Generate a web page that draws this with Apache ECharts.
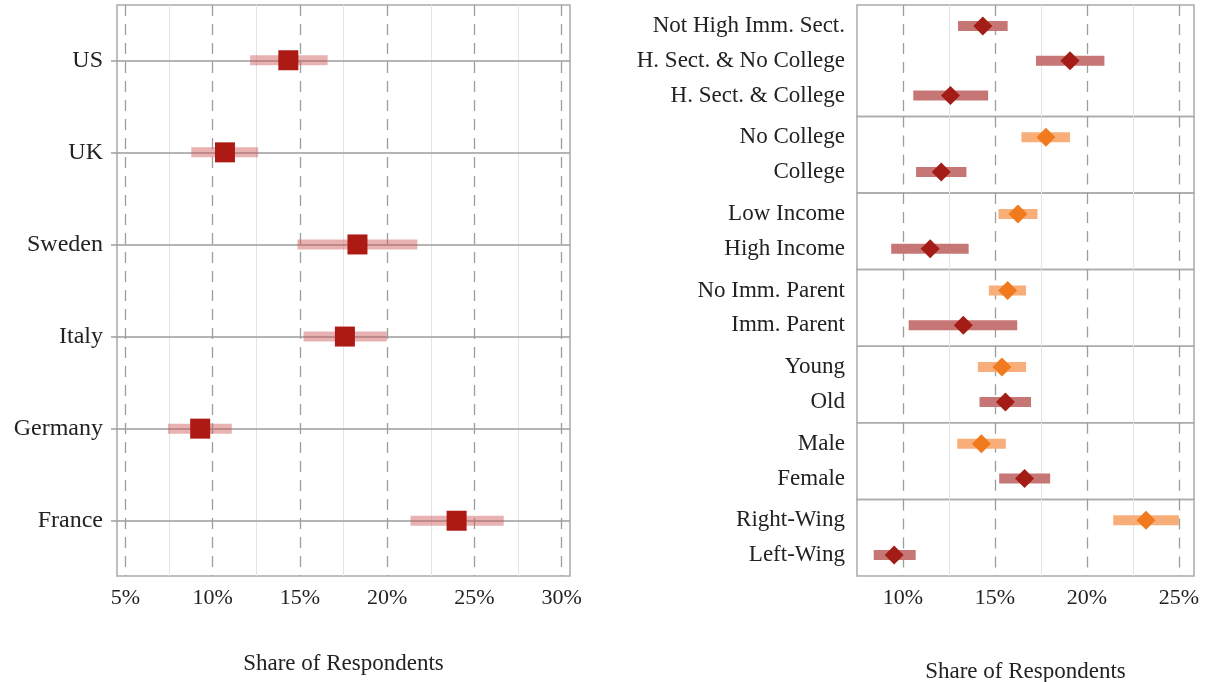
<!DOCTYPE html>
<html><head><meta charset="utf-8">
<script src="https://cdn.jsdelivr.net/npm/echarts@6/dist/echarts.min.js"></script>
<style>html,body{margin:0;padding:0;background:#fff}#c{width:1210px;height:682px}</style>
</head><body><div id="c"></div>
<script>
// ---------- Data ----------
const countries = ['US', 'UK', 'Sweden', 'Italy', 'Germany', 'France'];
const countryEst = [14.34, 10.71, 18.30, 17.58, 9.29, 23.98];
const countryLo  = [12.15, 8.78, 14.86, 15.21, 7.45, 21.34];
const countryHi  = [16.59, 12.61, 21.73, 19.98, 11.10, 26.68];

const groupLabels = [
  ['Not High Imm. Sect.', 'H. Sect. & No College', 'H. Sect. & College'],
  ['No College', 'College'],
  ['Low Income', 'High Income'],
  ['No Imm. Parent', 'Imm. Parent'],
  ['Young', 'Old'],
  ['Male', 'Female'],
  ['Right-Wing', 'Left-Wing']
];
const groupEst = [[14.34, 19.08, 12.58], [17.77, 12.08], [16.25, 11.48], [15.69, 13.28], [15.38, 15.57], [14.26, 16.61], [23.21, 9.52]];
const groupLo  = [[12.99, 17.23, 10.56], [16.44, 10.71], [15.19, 9.36], [14.67, 10.31], [14.07, 14.16], [12.95, 15.23], [21.43, 8.41]];
const groupHi  = [[15.69, 20.95, 14.63], [19.08, 13.45], [17.31, 13.57], [16.69, 16.21], [16.69, 16.96], [15.59, 18.00], [25.00, 10.69]];
const groupOrange = [[0, 0, 0], [1, 0], [1, 0], [1, 0], [1, 0], [1, 0], [1, 0]];

const leftTicks = [5, 10, 15, 20, 25, 30];
const leftMinor = [7.5, 12.5, 17.5, 22.5, 27.5];
const rightTicks = [10, 15, 20, 25];
const rightMinor = [12.5, 17.5, 22.5];
const axisTitle = 'Share of Respondents';

// ---------- Styles ----------
const FONT = '"Liberation Serif", "Times New Roman", serif';
const TXT = '#222';
const BORDER = '#ababab';
const DASH = '#9d9d9d';
const MINOR = '#e4e4e4';
const LEFT_RANGE = [4.525, 30.475];
const RIGHT_RANGE = [7.5, 25.82];

const chart = echarts.init(document.getElementById('c'), null, {renderer: 'canvas'});
const grid = [], xAxis = [], yAxis = [], series = [];

function vlines(major, minor) {
  return [
    ...minor.map(v => ({xAxis: v, lineStyle: {color: MINOR, width: 1, type: 'solid'}})),
    ...major.map(v => ({xAxis: v, lineStyle: {color: DASH, width: 1.3, type: [11, 8]}}))
  ];
}
function ciRender(color0, color1) {
  return function (params, api) {
    const a = api.coord([api.value(0), api.value(2)]);
    const b = api.coord([api.value(1), api.value(2)]);
    const h = 10;
    return {type: 'rect', shape: {x: a[0], y: a[1] - h / 2, width: b[0] - a[0], height: h},
      style: {fill: api.value(3) ? color1 : color0}};
  };
}

// ---------- Left panel ----------
grid.push({left: 117, right: 640, top: 5, height: 571, show: true, borderColor: BORDER, borderWidth: 1.5, outerBoundsMode: 'none', containLabel: false});
xAxis.push({
  type: 'value', gridIndex: 0, min: LEFT_RANGE[0], max: LEFT_RANGE[1],
  axisLine: {show: false}, axisTick: {show: false}, splitLine: {show: false},
  axisLabel: {customValues: leftTicks, formatter: v => v + '%', fontFamily: FONT, fontSize: 22, color: TXT, margin: 11},
  name: axisTitle, nameLocation: 'middle', nameGap: 76,
  nameTextStyle: {fontFamily: FONT, fontSize: 23, color: TXT}
});
const cIdx = countries.map((_, i) => i);
yAxis.push({
  type: 'value', gridIndex: 0, inverse: true, min: -0.6, max: countries.length - 0.4,
  axisLine: {show: false}, splitLine: {show: false},
  axisTick: {show: true, customValues: cIdx, length: 6, lineStyle: {color: DASH, width: 1.5}},
  axisLabel: {customValues: cIdx, formatter: v => countries[Math.round(v)], fontFamily: FONT, fontSize: 24, color: TXT, margin: 14}
});
series.push({
  type: 'scatter', xAxisIndex: 0, yAxisIndex: 0, data: [], z: 1, silent: true,
  markLine: {silent: true, z: 1, symbol: 'none', label: {show: false}, animation: false,
    data: [...vlines(leftTicks, leftMinor),
      ...cIdx.map(i => ({yAxis: i, lineStyle: {color: DASH, width: 1.5, type: 'solid'}}))]}
});
series.push({
  type: 'custom', xAxisIndex: 0, yAxisIndex: 0, z: 2, silent: true,
  renderItem: ciRender('rgba(205,85,85,0.45)', 'rgba(205,85,85,0.45)'),
  data: cIdx.map(i => [countryLo[i], countryHi[i], i, 0])
});
series.push({
  type: 'scatter', xAxisIndex: 0, yAxisIndex: 0, z: 3, symbol: 'rect', symbolSize: 20,
  itemStyle: {color: '#ad1a14', opacity: 1}, data: cIdx.map(i => [countryEst[i], i])
});

// ---------- Right panel (facets) ----------
const rTop = 5, rHeight = 571;
const units = groupLabels.reduce((s, g) => s + g.length + 0.2, 0);
const unitPx = rHeight / units;
let cursor = rTop;
groupLabels.forEach((labels, g) => {
  const gi = g + 1;
  const h = (labels.length + 0.2) * unitPx;
  const last = g === groupLabels.length - 1;
  grid.push({left: 857, right: 16, top: cursor, height: h, show: true, borderColor: BORDER, borderWidth: 1.5, outerBoundsMode: 'none', containLabel: false});
  cursor += h;
  const idx = labels.map((_, i) => i);
  xAxis.push({
    type: 'value', gridIndex: gi, min: RIGHT_RANGE[0], max: RIGHT_RANGE[1],
    axisLine: {show: false}, axisTick: {show: false}, splitLine: {show: false},
    axisLabel: {show: last, customValues: rightTicks, formatter: v => v + '%', fontFamily: FONT, fontSize: 22, color: TXT, margin: 11},
    name: last ? axisTitle : '', nameLocation: 'middle', nameGap: 84,
    nameTextStyle: {fontFamily: FONT, fontSize: 23, color: TXT}
  });
  yAxis.push({
    type: 'value', gridIndex: gi, inverse: true, min: -0.6, max: labels.length - 0.4,
    axisLine: {show: false}, splitLine: {show: false}, axisTick: {show: false},
    axisLabel: {customValues: idx, formatter: v => labels[Math.round(v)], fontFamily: FONT, fontSize: 23, color: TXT, margin: 12}
  });
  series.push({
    type: 'scatter', xAxisIndex: gi, yAxisIndex: gi, data: [], z: 1, silent: true,
    markLine: {silent: true, z: 1, symbol: 'none', label: {show: false}, animation: false, data: vlines(rightTicks, rightMinor)}
  });
  series.push({
    type: 'custom', xAxisIndex: gi, yAxisIndex: gi, z: 2, silent: true,
    renderItem: ciRender('#c67674', '#f8ae78'),
    data: idx.map(i => [groupLo[g][i], groupHi[g][i], i, groupOrange[g][i]])
  });
  series.push({
    type: 'scatter', xAxisIndex: gi, yAxisIndex: gi, z: 3, symbol: 'diamond', symbolSize: [19, 19],
    data: idx.map(i => ({value: [groupEst[g][i], i], itemStyle: {opacity: 1, color: groupOrange[g][i] ? '#f27a1e' : '#a31c16'}}))
  });
});

chart.setOption({animation: false, backgroundColor: '#fff', grid, xAxis, yAxis, series});
</script>
</body></html>
